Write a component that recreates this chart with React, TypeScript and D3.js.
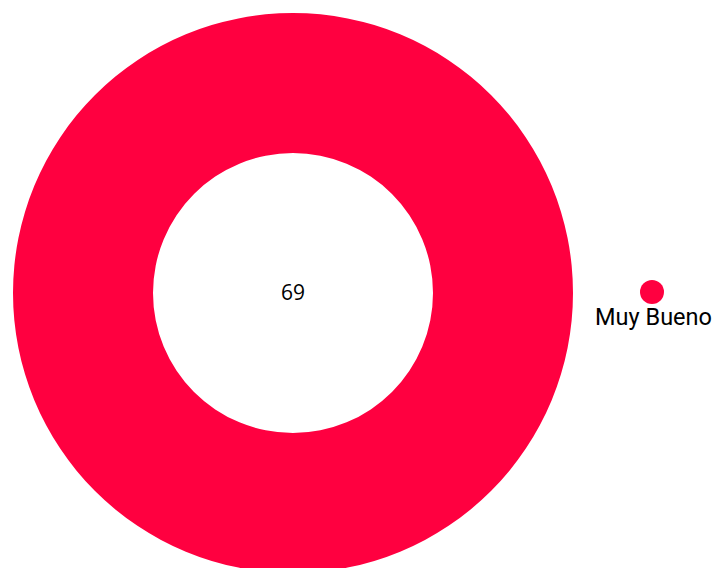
import { useEffect, useRef } from "react";
import * as d3 from "d3";

const categories = ["Muy Bueno"];
const values = [69];
const colors = ["#ff0040"];

export default function App() {
  const ref = useRef<SVGSVGElement>(null);

  useEffect(() => {
    if (!ref.current) return;
    const el = ref.current;
    const width = 714;
    const height = 568;
    const cx = 293;
    const cy = 293;
    const outer = 280;
    const inner = 140;

    d3.select(el).selectAll("*").remove();
    const svg = d3.select(el).attr("width", width).attr("height", height);

    const data = categories.map((c, i) => ({ name: c, value: values[i], color: colors[i] }));
    const pie = d3.pie<(typeof data)[number]>().value((d) => d.value).sort(null);
    const arc = d3.arc<d3.PieArcDatum<(typeof data)[number]>>().innerRadius(inner).outerRadius(outer);

    const g = svg.append("g").attr("transform", `translate(${cx},${cy})`);
    g.selectAll("path")
      .data(pie(data))
      .join("path")
      .attr("d", arc)
      .attr("fill", (d) => d.data.color);

    // total in the hole
    g.append("text")
      .attr("text-anchor", "middle")
      .attr("dy", "0.35em")
      .style("font-family", "Open Sans")
      .style("font-size", "21px")
      .style("fill", "#000")
      .text(String(d3.sum(values)));

    // Legend
    const legend = svg
      .selectAll(".legend")
      .data(data)
      .join("g")
      .attr("class", "legend")
      .attr("transform", (_, i) => `translate(652,${292 + i * 40})`);
    legend.append("circle").attr("r", 12).attr("fill", (d) => d.color);
    legend
      .append("text")
      .attr("x", 1.5)
      .attr("y", 33)
      .attr("text-anchor", "middle")
      .style("font-family", "Roboto")
      .style("font-size", "23.5px")
      .style("fill", "#000")
      .text((d) => d.name);
  }, []);

  return (
    <svg
      ref={ref}
      style={{ position: "absolute", left: 0, top: 0, display: "block" }}
    />
  );
}
